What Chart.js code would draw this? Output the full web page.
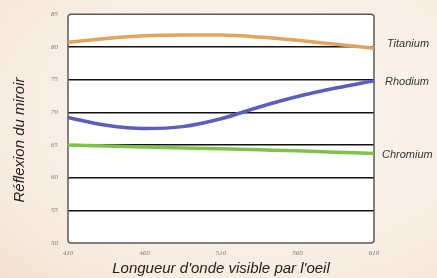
<!DOCTYPE html>
<html>
<head>
<meta charset="utf-8">
<script src="https://cdn.jsdelivr.net/npm/chart.js@4/dist/chart.umd.min.js"></script>
<style>
  html, body { margin: 0; padding: 0; }
  body {
    width: 437px; height: 278px; overflow: hidden;
    background: radial-gradient(ellipse at 60% 40%, #fdf8f3 0%, #f8ece1 70%, #f3e2d4 100%);
  }
  #wrap { position: relative; width: 437px; height: 278px; }
</style>
</head>
<body>
<div id="wrap"><canvas id="chart" width="437" height="278"></canvas></div>
<script>
// wavelengths (nm)
const wavelengths = [410, 435, 460, 485, 510, 535, 560, 585, 610];
const titanium = [80.7, 81.3, 81.7, 81.8, 81.8, 81.5, 81.0, 80.4, 79.8];
const rhodium = [69.2, 68.0, 67.5, 67.8, 69.0, 70.8, 72.4, 73.7, 74.8];
const chromium = [65.0, 64.85, 64.7, 64.55, 64.4, 64.25, 64.1, 63.9, 63.7];

const seriesNames = ['Titanium', 'Rhodium', 'Chromium'];
const seriesColors = ['#e2a35e', '#5a5ec0', '#7ec24c'];
const xTicks = [410, 460, 510, 560, 610];
const yTitle = 'Réflexion du miroir';
const xTitle = "Longueur d'onde visible par l'oeil";

const toPoints = (vals) => vals.map((v, i) => ({ x: wavelengths[i], y: v }));

// white plot background + rounded frame
const plotFrame = {
    id: 'plotFrame',
    beforeDatasetsDraw(chart) {
        const { ctx, chartArea: a } = chart;
        ctx.save();
        ctx.strokeStyle = '#5a5a5a';
        ctx.lineWidth = 1.5;
        ctx.beginPath();
        ctx.roundRect(a.left, a.top, a.right - a.left, a.bottom - a.top, 3);
        ctx.stroke();
        ctx.restore();
    },
    beforeDraw(chart) {
        const { ctx, chartArea: a } = chart;
        ctx.save();
        ctx.fillStyle = '#ffffff';
        ctx.fillRect(a.left, a.top, a.right - a.left, a.bottom - a.top);
        ctx.restore();
    }
};

// series names at end of lines + axis titles
const labels = {
    id: 'labels',
    afterDraw(chart) {
        const { ctx } = chart;
        const xs = chart.scales.x, ys = chart.scales.y;
        ctx.save();
        ctx.fillStyle = '#333';
        ctx.font = 'italic 11px "Liberation Sans", Arial, sans-serif';
        ctx.textBaseline = 'middle';
        const dx = [13, 11, 8];
        const dy = [-4, 1, 1];
        chart.data.datasets.forEach((ds, i) => {
            const last = ds.data[ds.data.length - 1];
            const px = xs.getPixelForValue(last.x);
            const py = ys.getPixelForValue(last.y);
            ctx.fillText(ds.label, px + dx[i], py + dy[i]);
        });

        ctx.fillStyle = '#222';
        ctx.font = 'italic 15px "Liberation Sans", Arial, sans-serif';
        ctx.textAlign = 'center';
        ctx.fillText(xTitle, 221, 269);
        ctx.translate(20, 140);
        ctx.rotate(-Math.PI / 2);
        ctx.fillText(yTitle, 0, 0);
        ctx.restore();
    }
};

const ctx = document.getElementById('chart').getContext('2d');
new Chart(ctx, {
    type: 'line',
    data: {
        datasets: [titanium, rhodium, chromium].map((vals, i) => ({
            label: seriesNames[i],
            data: toPoints(vals),
            borderColor: seriesColors[i],
            borderWidth: 3.5,
            pointRadius: 0,
            tension: 0.4,
            cubicInterpolationMode: 'monotone',
            fill: false,
            clip: false
        }))
    },
    options: {
        responsive: false,
        animation: false,
        layout: { padding: { left: 0, right: 63, top: 14, bottom: 0 } },
        plugins: { legend: { display: false }, tooltip: { enabled: false } },
        scales: {
            x: {
                type: 'linear',
                min: 410, max: 610,
                afterBuildTicks: (s) => { s.ticks = xTicks.map(v => ({ value: v })); },
                afterFit: (s) => { s.height = 35; },
                grid: { display: false, drawTicks: false },
                border: { display: false },
                ticks: {
                    color: '#777', padding: 6,
                    maxRotation: 0,
                    font: { size: 7, style: 'italic', family: '"Liberation Serif", serif' }
                }
            },
            y: {
                min: 50, max: 85,
                afterFit: (s) => { s.width = 68; },
                grid: {
                    drawTicks: false,
                    lineWidth: 1.5,
                    color: (c) => (c.tick && (c.tick.value === 85 || c.tick.value === 50)) ? 'rgba(0,0,0,0)' : '#111'
                },
                border: { display: false },
                ticks: {
                    stepSize: 5, color: '#777', padding: 10,
                    font: { size: 7, style: 'italic', family: '"Liberation Serif", serif' }
                }
            }
        }
    },
    plugins: [plotFrame, labels]
});
</script>
</body>
</html>
